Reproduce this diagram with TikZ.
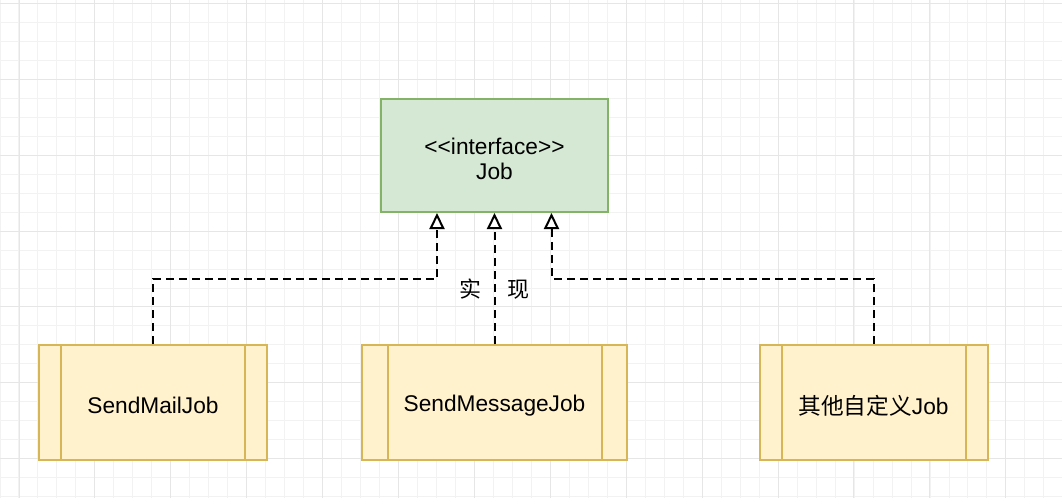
\documentclass[tikz,border=0pt]{standalone}
\usepackage{fontspec}
\setmainfont{Liberation Sans}
\newfontfamily\cjk{Noto Sans CJK SC}
\usetikzlibrary{arrows.meta}
\definecolor{gridminor}{HTML}{F2F2F2}
\definecolor{gridmajor}{HTML}{E6E6E6}
\definecolor{ifill}{HTML}{D5E8D4}
\definecolor{istroke}{HTML}{82B366}
\definecolor{pfill}{HTML}{FFF2CC}
\definecolor{pstroke}{HTML}{D6B656}
\tikzset{
  iface/.style={draw=istroke, fill=ifill, line width=2pt, minimum width=227pt, minimum height=113pt, inner sep=0pt},
  procbox/.style={draw=pstroke, fill=pfill, line width=2pt, minimum height=115pt, inner sep=0pt},
  txt/.style={inner sep=0pt, align=center, font=\fontsize{22.7}{25}\selectfont},
  inner/.style={draw=pstroke, line width=2pt},
  conn/.style={line width=2pt, dash pattern=on 8pt off 5pt, -{Triangle[open, fill=white, length=16pt, width=15pt, line width=2pt]}},
  lbl/.style={font=\fontsize{22}{25}\selectfont\cjk, inner sep=0pt}
}
\begin{document}
\begin{tikzpicture}[x=1pt,y=-1pt]
\useasboundingbox (0,0) rectangle (1062,498);
\fill[white] (0,0) rectangle (1062,498);
% grid
\foreach \i in {0,...,56} {
  \draw[gridminor, line width=1pt] (\i*18.98,0) -- (\i*18.98,498);
}
\foreach \j in {0,...,26} {
  \draw[gridminor, line width=1pt] (0,3.3+\j*18.98) -- (1062,3.3+\j*18.98);
}
\foreach \i in {0,...,13} {
  \draw[gridmajor, line width=1pt] (19+\i*75.9,0) -- (19+\i*75.9,498);
}
\foreach \j in {0,...,6} {
  \draw[gridmajor, line width=1pt] (0,3.3+\j*75.9) -- (1062,3.3+\j*75.9);
}
% interface
\node[iface] (job) at (494.5,155.5) {};
\node[txt] (jobtxt) at (494.5,158.5) {<\kern0pt<\kern0pt interface>\kern0pt>\\Job};
% process boxes
\node[procbox, minimum width=228pt] (smj) at (153,402.5) {};
\node[procbox, minimum width=265pt] (sm) at (494.5,402.5) {};
\node[procbox, minimum width=228pt] (oth) at (873.5,402.5) {};
\draw[inner] ([xshift=23pt]smj.north west) -- ([xshift=23pt]smj.south west);
\draw[inner] ([xshift=-23pt]smj.north east) -- ([xshift=-23pt]smj.south east);
\draw[inner] ([xshift=26.5pt]sm.north west) -- ([xshift=26.5pt]sm.south west);
\draw[inner] ([xshift=-26.5pt]sm.north east) -- ([xshift=-26.5pt]sm.south east);
\draw[inner] ([xshift=23pt]oth.north west) -- ([xshift=23pt]oth.south west);
\draw[inner] ([xshift=-23pt]oth.north east) -- ([xshift=-23pt]oth.south east);
\node[txt] (smjtxt) at (153,405.5) {SendMailJob};
\node[txt] (smtxt) at (494.5,405.5) {SendMessageJob};
\node[txt] (othtxt) at (873.5,405.5) {{\cjk 其他自定义}Job};
% connector targets
\coordinate (t1) at ([xshift=-57.5pt]job.south);
\coordinate (t2) at (job.south);
\coordinate (t3) at ([xshift=57pt]job.south);
\draw[conn] (smj.north) -- ++(0,-65) -| (t1);
\draw[conn] (sm.north) -- (t2);
\draw[conn] (oth.north) -- ++(0,-65) -| (t3);
\node[lbl] (impl) at (494.5,289) {实\hspace{26pt}现};
\end{tikzpicture}
\end{document}
